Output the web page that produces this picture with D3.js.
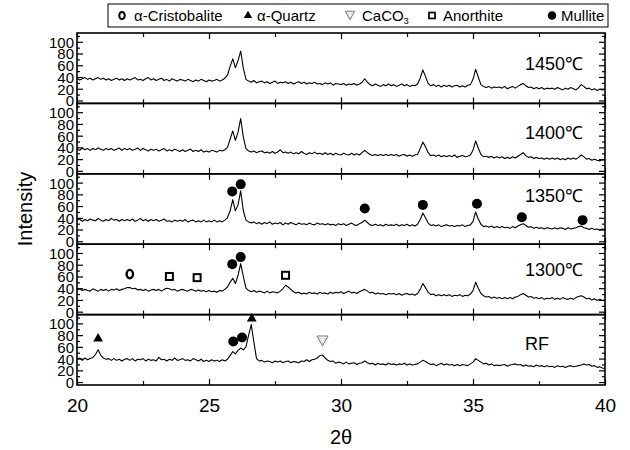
<!DOCTYPE html>
<html><head><meta charset="utf-8">
<script src="https://cdn.jsdelivr.net/npm/d3@7"></script>
<style>
body{margin:0;background:#fff;}
svg{display:block;}
text{font-family:"Liberation Sans",Arial,sans-serif;fill:#000;}
</style></head>
<body><svg id="chart" width="630" height="450"></svg>
<script>
// ---------- data ----------
const angleStart = 20, angleStep = 0.1;   // 2θ sampling of the scans (20.0 ... 40.0)
const panelNames = ["1450℃", "1400℃", "1350℃", "1300℃", "RF"];
const xTicksMajor = [20, 25, 30, 35, 40];
const xTicksMinor = [22.5, 27.5, 32.5, 37.5];
const yTicksMajor = [0, 20, 40, 60, 80, 100];
const yTicksMinor = [10, 30, 50, 70, 90, 110];

const scan1450 = [
38,35,37,39,36,38,35,37,39,36,
38,35,37,34,36,38,35,37,34,37,
35,37,39,35,36,34,37,39,35,37,
34,36,38,34,36,33,37,35,33,36,
35,33,36,34,32,35,33,36,34,32,
35,33,34,36,33,35,38,43,58,71,
56,68,84,55,36,33,31,34,30,32,
33,30,32,29,31,33,29,31,30,32,
29,31,28,30,32,29,31,28,30,29,
31,28,29,27,30,28,30,26,29,28,
27,29,26,28,27,29,26,28,31,37,
31,27,25,28,26,24,27,25,28,25,
27,24,26,28,25,27,24,26,25,28,
38,52,41,29,25,27,24,26,23,26,
24,26,23,25,26,23,25,23,26,27,
36,53,40,27,24,22,24,21,23,22,
23,21,24,20,22,24,21,24,27,29,
25,22,23,20,22,20,22,19,21,20,
21,19,22,20,18,21,19,22,20,18,
22,27,24,20,21,18,20,17,19,18,
19];
const scan1400 = [
37,35,39,36,38,35,38,36,39,37,
35,38,36,38,35,37,39,35,38,36,
38,35,37,39,35,38,36,34,37,35,
37,34,36,38,34,36,34,37,35,33,
36,33,35,37,33,35,33,36,32,34,
32,35,34,32,35,34,36,40,54,68,
52,66,89,58,38,34,32,34,31,33,
34,31,32,30,33,30,32,36,31,32,
30,32,29,31,29,33,30,28,31,29,
32,29,30,28,31,28,30,27,30,28,
27,30,28,27,30,27,29,27,31,35,
31,28,26,28,26,28,26,28,26,28,
26,28,25,27,28,25,27,25,27,28,
38,49,41,31,26,27,25,27,24,26,
24,26,24,27,23,25,26,24,25,27,
35,51,39,28,24,25,23,25,22,24,
22,24,21,23,21,24,22,25,28,31,
26,23,24,21,23,21,22,20,22,20,
22,20,22,19,21,19,22,20,22,20,
23,27,24,20,21,18,20,18,17,19,
18];
const scan1350 = [
36,38,34,37,35,38,36,35,39,36,
34,37,35,39,36,37,34,37,35,37,
35,38,34,36,39,35,37,34,37,35,
37,34,36,38,34,35,33,36,34,36,
34,37,33,35,36,33,35,33,36,33,
35,33,36,33,35,33,36,40,52,71,
52,62,86,52,36,33,31,33,30,32,
29,32,30,33,29,31,30,32,28,31,
29,32,30,28,31,29,30,28,31,29,
28,31,29,30,28,30,28,29,27,30,
28,30,27,29,31,28,27,30,32,36,
32,28,27,29,27,28,26,29,27,28,
27,29,26,28,27,29,26,28,26,29,
37,48,40,31,27,28,26,28,25,27,
28,26,27,25,27,26,28,25,27,28,
34,50,38,29,25,26,24,26,23,25,
23,25,23,24,22,25,23,26,28,30,
27,24,25,22,24,22,23,21,23,22,
21,23,21,23,22,20,23,21,22,23,
25,26,23,22,20,22,20,21,19,21,
20];
const scan1300 = [
37,39,36,38,36,35,39,37,35,38,
36,38,35,38,37,39,36,38,39,41,
41,39,40,37,38,36,38,35,37,38,
36,38,35,38,40,39,37,38,35,37,
38,36,35,38,37,35,37,35,36,34,
36,34,35,33,36,35,38,42,50,57,
48,62,82,60,40,36,34,36,33,35,
34,32,35,32,34,33,32,35,39,45,
42,38,34,32,33,30,32,30,33,31,
32,30,33,31,32,30,33,31,33,32,
34,31,33,35,32,33,31,34,36,38,
35,32,33,30,32,30,31,29,31,30,
31,29,31,28,30,31,29,30,28,31,
38,48,41,33,29,30,27,29,27,29,
27,29,26,28,27,29,26,28,27,30,
36,50,40,31,27,25,26,23,25,23,
24,22,24,22,24,22,25,26,29,31,
28,25,26,23,24,22,24,21,23,22,
24,21,23,21,24,22,21,23,21,24,
26,27,25,22,23,20,22,19,21,19,
20];
const scanRF = [
39,41,37,41,38,40,42,47,55,46,
41,39,40,37,40,37,39,36,39,40,
37,40,36,39,38,40,36,39,37,38,
36,42,38,39,36,39,37,41,37,38,
40,37,38,36,40,38,36,39,35,37,
35,38,36,37,35,38,36,39,45,52,
48,54,58,55,60,80,98,68,40,36,
37,34,36,35,33,36,34,36,33,35,
36,33,35,34,33,36,35,38,35,38,
39,41,45,46,41,37,35,36,32,34,
33,31,34,31,32,33,30,32,33,36,
33,31,32,29,32,30,31,29,32,30,
31,29,31,30,32,29,31,29,30,31,
34,37,35,32,30,31,28,30,32,29,
31,29,30,28,30,28,30,29,28,31,
34,40,37,34,31,32,29,31,28,29,
28,29,30,27,29,30,31,29,30,27,
29,27,28,26,29,27,28,26,28,26,
27,25,28,26,27,25,27,28,26,27,
28,29,31,29,30,27,28,25,26,24,
23];
const scans = [scan1450, scan1400, scan1350, scan1300, scanRF];

// phase markers: [2θ, panel index, intensity]
const phaseNames = ["α-Cristobalite", "α-Quartz", "CaCO3", "Anorthite", "Mullite"];
const cristobalite = [[22.0, 3, 64]];
const quartz = [[20.8, 4, 74], [26.62, 4, 108]];
const caco3 = [[29.3, 4, 70]];
const anorthite = [[23.5, 3, 60], [24.55, 3, 58], [27.9, 3, 62]];
const mullite = [
  [25.88, 2, 85], [26.2, 2, 97], [30.9, 2, 56], [33.1, 2, 62], [35.15, 2, 64], [36.85, 2, 41], [39.15, 2, 36],
  [25.88, 3, 81], [26.2, 3, 93],
  [25.92, 4, 69], [26.25, 4, 76]
];

// ---------- layout ----------
const plotLeft = 77, plotRight = 605, plotTop = 33, panelH = 70.4;
const labelDy = [37, 36, 28, 32, 35];
const svg = d3.select("#chart");
const x = d3.scaleLinear().domain([20, 40]).range([plotLeft, plotRight]);

function symCircleOpen(g, cx, cy, s) {
  g.append("ellipse").attr("cx", cx).attr("cy", cy).attr("rx", 3.2*s).attr("ry", 4.2*s)
    .attr("fill", "#fff").attr("stroke", "#000").attr("stroke-width", 2.4*s);
}
function symTriangle(g, cx, cy, s) {
  g.append("path").attr("transform", `translate(${cx},${cy})`)
    .attr("d", d3.symbol().type(d3.symbolTriangle).size(42*s*s)()).attr("fill", "#000");
}
function symInvTriangle(g, cx, cy, s) {
  const w = 5.5*s, h = 10*s;
  g.append("path").attr("d", `M${cx-w},${cy-h/2}L${cx+w},${cy-h/2}L${cx},${cy+h/2}Z`)
    .attr("fill", "#fff").attr("stroke", "#777").attr("stroke-width", 1);
  const w2 = 3*s, h2 = 5.5*s;
  g.append("path").attr("d", `M${cx-w2},${cy-h/2+2.2*s}L${cx+w2},${cy-h/2+2.2*s}L${cx},${cy-h/2+2.2*s+h2}Z`)
    .attr("fill", "none").attr("stroke", "#999").attr("stroke-width", 0.8).attr("stroke-dasharray", "1,1");
}
function symSquare(g, cx, cy, s) {
  const a = 7*s;
  g.append("rect").attr("x", cx-a/2).attr("y", cy-a/2).attr("width", a).attr("height", a)
    .attr("fill", "#fff").attr("stroke", "#000").attr("stroke-width", 2*s);
}
function symCircle(g, cx, cy, s) {
  g.append("circle").attr("cx", cx).attr("cy", cy).attr("r", 5*s).attr("fill", "#000");
}
const markerSets = [
  [cristobalite, symCircleOpen], [quartz, symTriangle], [caco3, symInvTriangle],
  [anorthite, symSquare], [mullite, symCircle]
];

const yScales = [];
scans.forEach((scan, p) => {
  const top = plotTop + p*panelH, bottom = top + panelH;
  const y = d3.scaleLinear().domain([-5, 115]).range([bottom, top]);
  yScales.push(y);
  const g = svg.append("g");

  const line = d3.line().x((d, i) => x(angleStart + i*angleStep)).y(d => y(d));
  g.append("path").datum(scan).attr("d", line)
    .attr("fill", "none").attr("stroke", "#000").attr("stroke-width", 1.1).attr("stroke-linejoin", "round");

  const left = g.append("g").attr("transform", `translate(${plotLeft},0)`)
    .call(d3.axisLeft(y).tickValues(yTicksMajor).tickSize(-6).tickPadding(3).tickFormat(d3.format("d")));
  left.selectAll("text").attr("font-size", 15).attr("font-family", null).attr("dy", "0.36em");
  g.append("g").attr("transform", `translate(${plotLeft},0)`)
    .call(d3.axisLeft(y).tickValues(yTicksMinor).tickSize(-3).tickFormat(""));
  g.append("g").attr("transform", `translate(${plotRight},0)`)
    .call(d3.axisRight(y).tickValues(yTicksMajor).tickSize(-6).tickFormat(""));
  g.append("g").attr("transform", `translate(${plotRight},0)`)
    .call(d3.axisRight(y).tickValues(yTicksMinor).tickSize(-3).tickFormat(""));
  const bot = g.append("g").attr("transform", `translate(0,${bottom})`)
    .call(d3.axisBottom(x).tickValues(xTicksMajor).tickSize(-6).tickPadding(14)
      .tickFormat(p === scans.length-1 ? d3.format("d") : ""));
  bot.selectAll("text").attr("font-size", 19).attr("font-family", null);
  g.append("g").attr("transform", `translate(0,${bottom})`)
    .call(d3.axisBottom(x).tickValues(xTicksMinor).tickSize(-4).tickFormat(""));
  g.append("g").attr("transform", `translate(0,${top})`)
    .call(d3.axisTop(x).tickValues(xTicksMajor).tickSize(-6).tickFormat(""));
  g.append("g").attr("transform", `translate(0,${top})`)
    .call(d3.axisTop(x).tickValues(xTicksMinor).tickSize(-4).tickFormat(""));
  g.selectAll(".domain").remove();
  g.selectAll(".tick line").attr("stroke", "#000").attr("stroke-width", 1.2);

  g.append("rect").attr("x", plotLeft).attr("y", top).attr("width", plotRight-plotLeft).attr("height", panelH)
    .attr("fill", "none").attr("stroke", "#000").attr("stroke-width", 1.6);

  g.append("text").attr("x", 525).attr("y", top + labelDy[p]).attr("font-size", 18)
    .text(panelNames[p]);
});

const mg = svg.append("g");
markerSets.forEach(([set, fn]) => {
  set.forEach(([a, p, v]) => fn(mg, x(a), yScales[p](v), 1));
});

const lg = svg.append("g");
lg.append("rect").attr("x", 108).attr("y", 4).attr("width", 500).attr("height", 23)
  .attr("fill", "#fff").attr("stroke", "#000").attr("stroke-width", 1);
const legendSym = [122, 248, 350, 432, 552];
const legendTxt = [134, 257, 362, 443, 561];
const ly = 15.5;
markerSets.forEach(([set, fn], i) => {
  fn(lg, legendSym[i], ly, 0.85);
  const t = lg.append("text").attr("x", legendTxt[i]).attr("y", ly + 5.5).attr("font-size", 15);
  if (phaseNames[i] === "CaCO3") {
    t.append("tspan").text("CaCO");
    t.append("tspan").attr("font-size", 9).attr("dy", 3).text("3");
  } else t.text(phaseNames[i]);
});

svg.append("text").attr("transform", `translate(32,209) rotate(-90)`).attr("text-anchor", "middle")
  .attr("font-size", 20).text("Intensity");
svg.append("text").attr("x", 341).attr("y", 444).attr("text-anchor", "middle").attr("font-size", 20).text("2θ");
</script></body></html>
